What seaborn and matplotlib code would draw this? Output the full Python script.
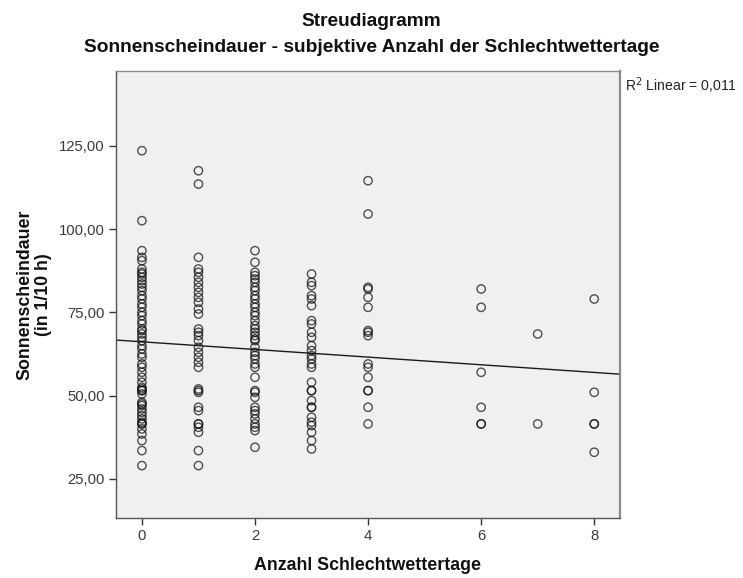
import numpy as np
import pandas as pd
import matplotlib
matplotlib.use("Agg")
import matplotlib.pyplot as plt
import seaborn as sns
from matplotlib.ticker import FuncFormatter

# Sonnenscheindauer (in 1/10 h) grouped by subjective number of bad-weather days
sun_0 = [123.5, 102.5, 93.5, 91.5, 90.5, 88.0, 87.0, 86.5, 85.5, 84.5, 83.5, 82.5,
         81.5, 80.0, 79.0, 77.5, 76.5, 75.0, 74.0, 72.5, 71.5, 70.0, 69.5, 68.5,
         67.5, 66.5, 65.0, 64.0, 62.5, 61.5, 59.5, 58.5, 57.0, 55.5, 54.0, 52.5,
         52.0, 51.5, 51.5, 50.5, 48.0, 47.5, 47.0, 46.0, 45.0, 44.0, 43.0, 42.0,
         41.5, 41.5, 40.0, 38.5, 36.5, 33.5, 29.0]
sun_1 = [117.5, 113.5, 91.5, 88.0, 87.0, 85.5, 84.0, 82.5, 81.0, 79.5, 78.0, 76.0,
         74.5, 70.0, 69.0, 68.0, 66.5, 64.5, 63.0, 61.5, 60.0, 58.5, 52.0, 51.5,
         51.0, 46.5, 45.5, 41.5, 41.5, 40.5, 39.0, 33.5, 29.0]
sun_2 = [93.5, 90.0, 87.0, 86.0, 85.0, 84.0, 82.5, 81.5, 80.0, 79.0, 77.5, 76.5,
         75.0, 74.0, 72.5, 71.0, 70.0, 69.0, 68.0, 67.0, 66.5, 64.5, 63.0, 62.0,
         61.0, 59.5, 58.5, 55.5, 51.5, 51.0, 49.5, 46.5, 45.5, 44.5, 43.0, 41.5,
         40.5, 39.5, 34.5]
sun_3 = [86.5, 84.0, 83.0, 80.0, 79.0, 77.0, 72.5, 71.5, 69.0, 67.5, 65.0, 63.5,
         62.0, 61.0, 59.5, 58.5, 54.0, 51.5, 51.5, 48.5, 46.5, 46.5, 43.5, 42.0,
         41.0, 39.0, 36.5, 34.0]
sun_4 = [114.5, 104.5, 82.5, 82.0, 79.5, 76.5, 69.5, 69.0, 68.0, 59.5, 58.5, 55.5,
         51.5, 51.5, 46.5, 41.5]
sun_6 = [82.0, 76.5, 57.0, 46.5, 41.5, 41.5]
sun_7 = [68.5, 41.5]
sun_8 = [79.0, 51.0, 41.5, 41.5, 33.0]

days = [0, 1, 2, 3, 4, 6, 7, 8]
groups = [sun_0, sun_1, sun_2, sun_3, sun_4, sun_6, sun_7, sun_8]

y_ticks = [25, 50, 75, 100, 125]
x_ticks = [0, 2, 4, 6, 8]
r2_text = "R$^2$ Linear = 0,011"

df = pd.DataFrame({
    "tage": np.concatenate([[d] * len(g) for d, g in zip(days, groups)]).astype(float),
    "sonne": np.concatenate(groups),
})

sns.set_theme(style="white")
plt.rcParams["font.family"] = ["Liberation Sans", "DejaVu Sans"]

fig = plt.figure(figsize=(7.43, 5.78), dpi=100)
ax = fig.add_axes([0.156, 0.104, 0.678, 0.773])
ax.set_facecolor("#f0f0f0")
ax.set_xlim(-0.46, 8.45)
ax.set_ylim(13.3, 147.4)

sns.regplot(data=df, x="tage", y="sonne", ax=ax, ci=None, truncate=False,
            marker="o",
            scatter_kws=dict(s=36, facecolors="none", edgecolors="#111111",
                             linewidths=1.0, alpha=0.72),
            line_kws=dict(color="#1a1a1a", lw=1.0))

for side in ["left", "bottom", "top", "right"]:
    ax.spines[side].set_color("#555555")
    ax.spines[side].set_linewidth(1.0)
ax.spines["top"].set_color("#8a8a8a")
ax.spines["right"].set_color("#8a8a8a")
ax.spines["right"].set_linewidth(1.6)

ax.set_xticks(x_ticks)
ax.set_yticks(y_ticks)
ax.yaxis.set_major_formatter(FuncFormatter(lambda v, p: f"{v:.2f}".replace(".", ",")))
ax.tick_params(axis="both", direction="out", length=5, width=1, color="#333333",
               labelsize=10.7, labelcolor="#3a3a3a", left=True, bottom=True, pad=3)

ax.set_xlabel("Anzahl Schlechtwettertage", fontsize=12.8, fontweight="bold",
              color="#111111", labelpad=10)
ax.set_ylabel("Sonnenscheindauer\n(in 1/10 h)", fontsize=12.8, fontweight="bold",
              color="#111111", labelpad=5, linespacing=1.15)

fig.text(0.5, 0.963, "Streudiagramm", ha="center", va="center",
         fontsize=13.8, fontweight="bold", color="#111111")
fig.text(0.5, 0.917, "Sonnenscheindauer - subjektive Anzahl der Schlechtwettertage",
         ha="center", va="center", fontsize=13.8, fontweight="bold", color="#111111")
fig.text(0.841, 0.851, r2_text, ha="left", va="center", fontsize=10.1, color="#222222")

fig.savefig("out.png", dpi=100, facecolor="white")
